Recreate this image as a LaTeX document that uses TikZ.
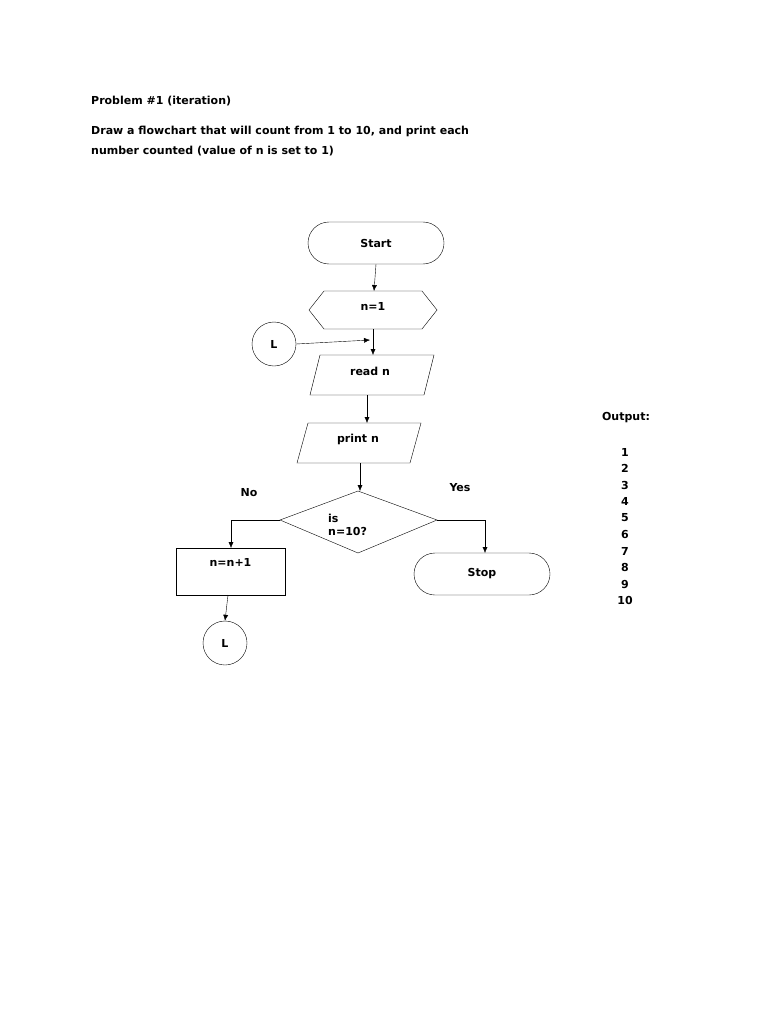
\documentclass[tikz,border=0pt]{standalone}
\usepackage{fontspec}
\setmainfont{DejaVu Sans}
\usetikzlibrary{shapes.geometric,arrows.meta}
\begin{document}
\begin{tikzpicture}[x=1pt,y=-1pt,
  every node/.style={font=\bfseries\fontsize{11}{13}\selectfont},
  sh/.style={draw,thin},
  arr/.style={draw,thin,-{Latex[length=6pt,width=5pt]}},
  txt/.style={inner sep=0pt}]
\useasboundingbox[fill=white] (0,0) rectangle (768,1024);
\node[txt,anchor=west] (t1) at (91,101) {Problem \#1 (iteration)};
\node[txt,anchor=west] (t2) at (91,131) {Draw a flowchart that will count from 1 to 10, and print each};
\node[txt,anchor=west] (t3) at (91,151) {number counted (value of n is set to 1)};
\node[sh,rounded corners=21pt,minimum width=136pt,minimum height=42pt] (start) at (376,243) {Start};
\draw[sh] (309,310)--(324,291)--(422,291)--(437,310)--(422,329)--(324,329)--cycle;
\node[txt] (n1) at (373,306) {n=1};
\coordinate (n1t) at (374,291); \coordinate (n1b) at (373,329);
\node[sh,circle,minimum size=44pt,inner sep=0pt] (L1) at (274,344) {L};
\draw[sh] (320,355)--(434,355)--(424,395)--(310,395)--cycle;
\node[txt] (rd) at (370,371) {read n};
\coordinate (rdt) at (373,355); \coordinate (rdb) at (367,395);
\draw[sh] (308,423)--(421,423)--(410,463)--(297,463)--cycle;
\node[txt] (pr) at (358,439) {print n};
\coordinate (prt) at (367,423); \coordinate (prb) at (360,463);
\draw[sh] (280,520)--(358,491)--(437,520)--(358,553)--cycle;
\node[txt,align=left,anchor=north west] (is) at (328,514) {is\\n=10?};
\coordinate (dt) at (360,491); \coordinate (dl) at (280,520); \coordinate (dr) at (437,520);
\node[sh,minimum width=109pt,minimum height=47pt] (inc) at (230.5,571.5) {};
\node[txt] (inct) at (230.5,562) {n=n+1};
\node[sh,circle,minimum size=44pt,inner sep=0pt] (L2) at (225,643) {L};
\node[sh,rounded corners=21pt,minimum width=136pt,minimum height=42pt] (stop) at (482,574) {Stop};
\node[txt] (no) at (249,493) {No};
\node[txt] (yes) at (460,488) {Yes};
\node[txt] (out) at (626,418) {Output:};
\foreach \i in {1,...,10} \node[txt] (o\i) at (625,452+16.5*\i-16.5) {\i};
\draw[arr] (start.south) -- (n1t);
\draw[arr] (n1b) -- (rdt);
\draw[arr] (L1.east) -- (370,340);
\draw[arr] (rdb) -- (prt);
\draw[arr] (prb) -- (dt);
\draw[arr] (dl) -- (231,520) -- (231,548);
\draw[arr] (dr) -- (485,520) -- (485,553);
\draw[arr] (228,595) -- (L2.north);
\end{tikzpicture}
\end{document}
